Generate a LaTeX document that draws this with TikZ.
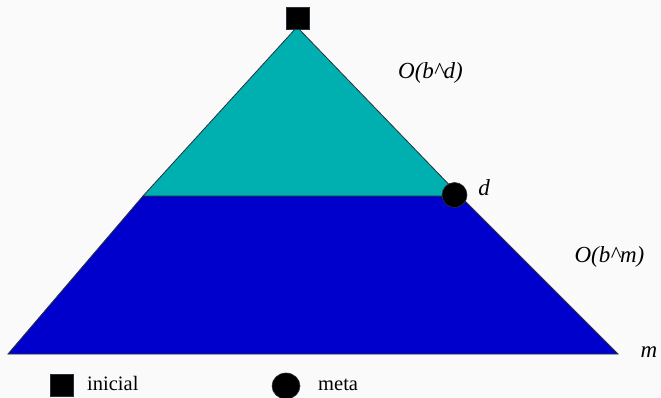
\documentclass[tikz,border=0pt]{standalone}
\usepackage{fontspec}
\setmainfont{Liberation Serif}
\newfontfamily\tms{Liberation Serif}
\usetikzlibrary{shapes.geometric}
\definecolor{bgc}{RGB}{250,250,250}
\definecolor{tealc}{RGB}{0,176,176}
\definecolor{bluec}{RGB}{0,0,204}
\definecolor{edgec}{RGB}{40,50,60}
\begin{document}
\begin{tikzpicture}[x=1pt,y=-1pt,
  region/.style={draw=edgec,line width=0.8pt,line join=miter},
  lbl/.style={font=\tms\fontsize{23}{26}\selectfont\itshape,inner sep=0pt},
  legtxt/.style={font=\tms\fontsize{20.5}{24}\selectfont,inner sep=0pt,anchor=west},
  sqmark/.style={draw=edgec,fill=black,minimum width=23pt,minimum height=22pt,inner sep=0pt,line width=0.6pt},
  ccmark/.style={draw=edgec,fill=black,circle,minimum size=25pt,inner sep=0pt,line width=0.6pt}]
\useasboundingbox[fill=bgc] (0,0) rectangle (661,398);
% regions
\coordinate (apex) at (297,27);
\coordinate (ml) at (143,196);
\coordinate (mr) at (460,196);
\coordinate (bl) at (8,354);
\coordinate (br) at (618,354);
\fill[bluec] (ml) -- (mr) -- (br) -- (bl) -- cycle;
\draw[region] (ml) -- (mr) -- (br) -- (bl) -- cycle;
\fill[tealc] (apex) -- (mr) -- (ml) -- cycle;
\draw[region] (apex) -- (mr) -- (ml) -- cycle;
% markers
\node[sqmark] (start) at (297.5,18) {};
\node[ccmark] (goal) at (454.5,195) {};
% labels
\node[lbl] (od) at (430.5,73) {O(b\^{}d)};
\node[lbl] (d) at (484,188) {d};
\node[lbl] (om) at (609.5,257) {O(b\^{}m)};
\node[lbl] (m) at (649,352) {m};
% legend
\node[sqmark] (legsq) at (61.5,385.5) {};
\node[legtxt] (legsqt) at (87,383) {inicial};
\node[draw=edgec,fill=black,ellipse,minimum width=28pt,minimum height=26pt,inner sep=0pt,line width=0.6pt] (legcc) at (286,386) {};
\node[legtxt] (legcct) at (318,385) {meta};
\end{tikzpicture}
\end{document}
